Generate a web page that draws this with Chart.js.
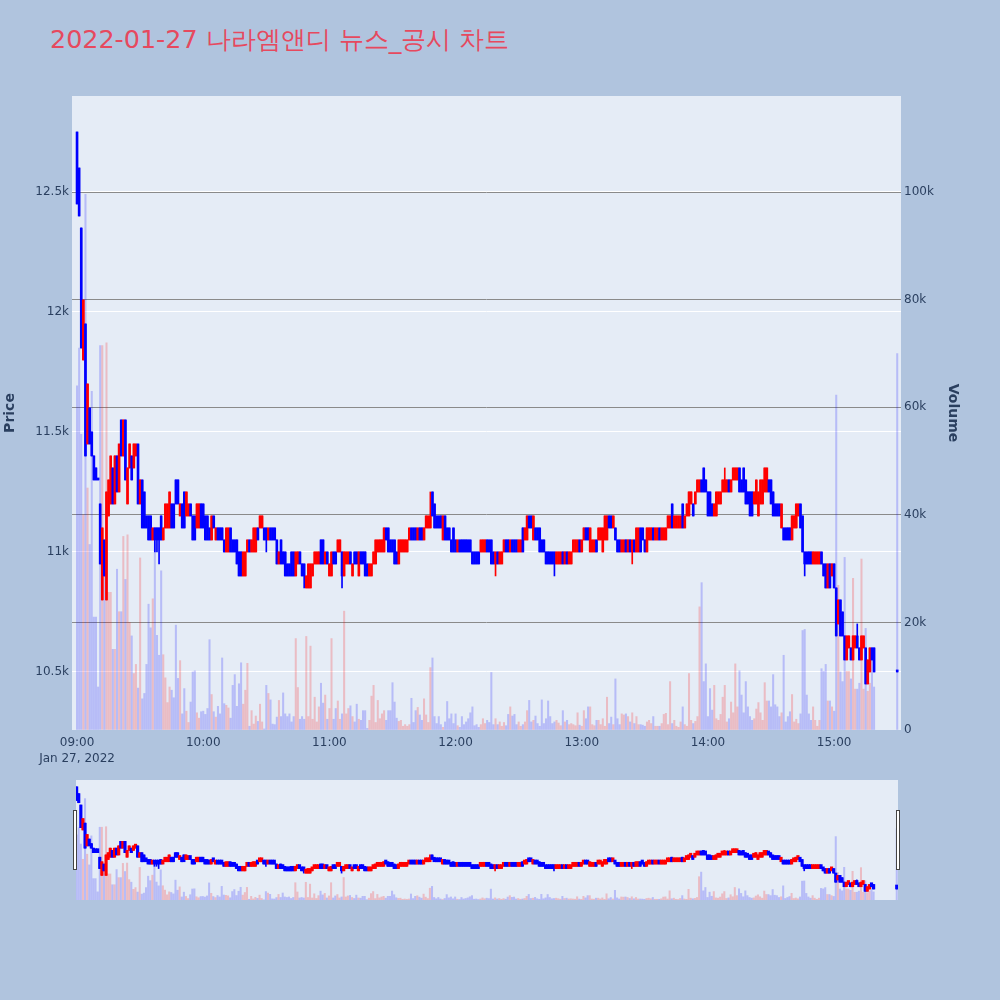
<!DOCTYPE html>
<html>
<head>
<meta charset="utf-8">
<script src="https://cdn.jsdelivr.net/npm/chart.js@4.4.1/dist/chart.umd.min.js"></script>
<style>
  html, body { margin: 0; padding: 0; background: #b0c4de; }
  body { width: 1000px; height: 1000px; position: relative; overflow: hidden; font-family: "DejaVu Sans", Verdana, sans-serif; }
  #title { position: absolute; left: 50px; top: 24px; font-size: 25.4px; line-height: 30px; color: #e6495e; white-space: nowrap; }
  #main { position: absolute; left: 0; top: 0; width: 1000px; height: 780px; }
  #slider { position: absolute; left: 0; top: 780px; width: 1000px; height: 120px; }
</style>
</head>
<body>
<div id="title">2022-01-27 나라엠앤디 뉴스_공시 차트</div>
<div id="main"><canvas id="chart-main"></canvas></div>
<div id="slider"><canvas id="chart-slider"></canvas></div>
<script>
// one-minute candles from 09:00, last entry is the 15:30 closing auction
var OPEN = [
  12750,12600,12350,11800,11950,11450,11600,11500,11400,11350,
  11300,11200,10800,11050,10800,11150,11200,11350,11200,11400,
  11250,11550,11400,11550,11200,11350,11400,11350,11400,11450,
  11200,11300,11250,11150,11150,11150,11050,11100,11100,11100,
  11150,11050,11100,11100,11100,11200,11200,11300,11300,11150,
  11200,11250,11150,11150,11200,11150,11150,11100,11100,11200,
  11200,11150,11150,11100,11050,11150,11050,11100,11100,11100,
  11050,11000,11000,11100,11050,11050,11050,11000,11000,10900,
  10900,11000,11050,11000,11000,11000,11100,11100,11100,11100,
  11100,11050,11100,11100,11100,11050,10950,11050,11000,11000,
  10950,10950,11000,11000,10900,10950,11000,10950,10950,10850,
  10850,10850,10900,10950,10950,10950,11050,11050,10950,11000,
  10900,10900,11000,11000,11000,11000,11000,10900,10950,10950,
  11000,10900,11000,11000,10900,11000,11000,11000,10950,10900,
  10900,10950,10950,11000,11000,11000,11000,11100,11100,11050,
  11050,11050,11000,10950,11000,11000,11000,11000,11050,11100,
  11100,11100,11050,11100,11100,11050,11100,11100,11100,11250,
  11200,11150,11150,11150,11050,11150,11100,11100,11050,11100,
  11050,11000,11050,11050,11050,11050,11050,11050,11000,11000,
  11000,11000,11000,11000,11000,11050,11050,11050,11000,10950,
  11000,10950,10950,11000,11050,11050,11000,11050,11050,11050,
  11000,11000,11100,11050,11050,11150,11150,11050,11100,11100,
  11100,11050,11050,11000,11000,11000,11000,11000,10950,10950,
  10950,11000,10950,11000,10950,10950,11000,11000,11000,11050,
  11000,11050,11100,11100,11000,11000,11000,11050,11050,11050,
  11000,11050,11050,11150,11150,11100,11100,11050,11050,11000,
  11000,11050,11000,11050,11000,11050,11000,11000,11100,11100,
  11050,11000,11050,11050,11100,11050,11050,11100,11050,11050,
  11050,11100,11100,11200,11100,11100,11100,11100,11200,11100,
  11150,11150,11200,11200,11200,11250,11250,11300,11350,11300,
  11250,11250,11200,11150,11150,11200,11200,11250,11250,11250,
  11300,11250,11300,11300,11300,11350,11300,11350,11300,11250,
  11250,11250,11200,11200,11150,11200,11200,11250,11250,11300,
  11300,11250,11200,11200,11200,11100,11100,11100,11100,11100,
  11050,11100,11100,11150,11200,11150,11000,11000,11000,11000,
  10950,10950,10950,10950,11000,10950,10950,10850,10950,10900,
  10950,10850,10700,10800,10750,10650,10550,10600,10600,10550,
  10600,10650,10600,10550,10600,10600,10450,10500,10600,10600,
  10500
];
var CLOSE = [
  12450,12400,11850,12050,11400,11700,11450,11400,11300,11300,
  11300,10950,11100,10900,11250,11300,11400,11200,11400,11250,
  11450,11400,11550,11300,11350,11450,11300,11450,11450,11200,
  11300,11100,11100,11100,11050,11050,11100,11050,11050,11050,
  11050,11100,11200,11200,11250,11100,11100,11200,11200,11200,
  11100,11100,11250,11200,11150,11050,11050,11200,11200,11100,
  11100,11050,11050,11050,11150,11100,11100,11050,11050,11050,
  11000,11100,11100,11000,11000,11000,10950,10900,10900,11000,
  11000,11050,11000,11050,11100,11100,11050,11150,11150,11050,
  11050,11100,11050,11050,11050,10950,11000,10950,10950,10900,
  10900,10900,10900,10900,11000,11000,10950,10900,10900,10900,
  10950,10950,10950,11000,11000,11000,10950,10950,11000,10950,
  10950,11000,10950,10950,11050,11050,10900,11000,11000,11000,
  10950,10950,10950,10950,11000,10950,10950,10900,10900,10950,
  10950,11000,11050,11050,11050,11050,11100,11050,11000,11000,
  11000,10950,10950,11050,11050,11050,11050,11050,11100,11050,
  11050,11050,11100,11050,11050,11100,11150,11150,11150,11150,
  11100,11100,11100,11100,11150,11050,11050,11050,11000,11000,
  11000,11050,11000,11000,11000,11000,11000,11000,10950,10950,
  10950,10950,11050,11050,11050,11000,11000,10950,10950,11000,
  10950,11000,11000,11050,11000,11000,11050,11000,11000,11000,
  11050,11050,11000,11100,11150,11100,11100,11150,11050,11050,
  11000,11000,11000,10950,10950,10950,10950,10950,11000,11000,
  11000,10950,11000,10950,11000,11000,11050,11050,11050,11000,
  11050,11100,11050,11050,11100,11050,11050,11000,11100,11100,
  11100,11150,11150,11100,11100,11150,11050,11000,11000,11050,
  11050,11000,11050,11000,11050,11000,11100,11100,11000,11050,
  11000,11100,11100,11100,11050,11100,11100,11050,11100,11100,
  11100,11150,11150,11100,11150,11150,11150,11150,11100,11150,
  11200,11250,11250,11150,11250,11300,11300,11250,11250,11250,
  11150,11150,11150,11200,11250,11250,11250,11300,11300,11300,
  11250,11300,11350,11350,11350,11250,11250,11250,11200,11200,
  11150,11150,11250,11300,11250,11300,11300,11350,11350,11250,
  11200,11150,11150,11150,11150,11200,11050,11050,11050,11050,
  11150,11150,11200,11200,11100,11000,10950,10950,10950,10950,
  11000,11000,11000,11000,10950,10900,10850,10950,10850,10950,
  10850,10650,10800,10650,10650,10550,10650,10650,10550,10650,
  10650,10600,10550,10650,10650,10450,10550,10600,10550,10500,
  10500
];
var VOLUME = [
  64000,71000,55000,40000,99600,45000,34500,63000,21000,21000,
  8000,71500,71500,31000,72000,25600,25600,15000,15000,29900,
  22000,22000,36000,28000,36300,20000,17500,10500,12200,7800,
  32000,5800,6800,12200,23400,19000,24400,35000,17600,13900,
  29600,14000,9700,5100,8000,7400,6000,19500,9600,12900,
  3000,7700,3500,1400,5200,10800,11000,3200,2200,3400,
  3500,2900,4000,16800,6600,3400,2400,4400,3000,13400,
  4900,4600,4100,2200,8300,10300,4400,8600,12500,4800,
  7400,12400,700,3600,1100,2600,1600,4800,1500,200,
  8300,6800,5600,1100,1000,2400,5500,2500,6900,3000,
  2500,3000,1500,2500,17000,7900,2000,2500,2000,17400,
  2500,15600,2000,6100,1500,4300,8700,5000,6500,2000,
  4000,17000,2000,4000,5400,2000,3000,22100,3000,4000,
  4500,2500,1500,4800,2000,1800,3600,3600,300,1800,
  6300,8300,1400,5500,2100,3000,3600,1800,3600,3600,
  8800,5200,2200,1600,1800,700,1000,700,1000,5900,
  1400,3600,4200,2800,1800,5800,2800,1400,11600,13400,
  2500,1200,2500,1000,500,1500,5300,2100,3000,1200,
  3000,800,500,2500,1000,1500,2100,3200,4300,800,
  1000,500,1000,2100,1200,1800,1400,10700,1000,2100,
  1000,1500,700,1400,800,2900,4300,2600,2900,1000,
  1500,700,1000,1500,3600,5500,1500,1800,2600,1200,
  700,5600,1200,2100,5400,2500,1200,1500,1800,1300,
  800,3600,1500,1800,1000,1200,1000,800,3200,900,
  700,3600,2100,4300,4300,1000,800,1800,1800,1000,
  2100,700,6100,1200,2400,1000,9500,2100,1000,3000,
  2800,3000,2500,1500,3200,1200,2500,1000,1000,900,
  700,1500,1800,1200,2500,700,700,700,1200,2900,
  3100,1000,9000,1200,1800,700,500,1500,4300,1000,
  700,10500,1800,1200,1600,2500,22900,27400,9000,12300,
  2500,7700,3700,8300,2100,1800,2900,6100,8300,1500,
  2100,5200,3200,12300,4300,11000,6500,3200,9000,4300,
  2500,1800,2100,3900,5100,3200,1800,8800,5400,5400,
  4300,10300,4700,4300,2500,3200,13900,1500,2500,3400,
  6600,1500,2000,1200,3000,18500,18700,6500,3000,1800,
  4300,1800,700,1800,11400,10900,12200,5400,5400,4300,
  3500,62300,26900,10800,9000,32100,10900,10900,9500,28200,
  7600,7600,8700,31800,7600,18900,7200,8700,13400,8000,
  70000
];
// wicks reaching past the body: [minute, price]
var LOW_WICKS = [[37,11000],[38,11000],[39,10950],[90,11000],[108,10850],[126,10850],
  [199,10900],[227,10900],[264,10950],[346,10900]];
var HIGH_WICKS = [[168,11250],[308,11350],[371,10700]];

var CLOSING_AUCTION_MINUTE = 390;
var TIME_TICKS = [0, 60, 120, 180, 240, 300, 360];
var TIME_TICK_LABELS = ['09:00', '10:00', '11:00', '12:00', '13:00', '14:00', '15:00'];
var DATE_LABEL = 'Jan 27, 2022';
var PRICE_TICKS = [10500, 11000, 11500, 12000, 12500];
var PRICE_TICK_LABELS = ['10.5k', '11k', '11.5k', '12k', '12.5k'];
var VOLUME_TICKS = [0, 20000, 40000, 60000, 80000, 100000];
var VOLUME_TICK_LABELS = ['0', '20k', '40k', '60k', '80k', '100k'];

var FONT = '"DejaVu Sans", Verdana, sans-serif';
var INK = '#2a3f5f';
var UP = '#ff0000';
var DOWN = '#0000ff';
var UP_VOL = 'rgba(255,0,0,0.2)';
var DOWN_VOL = 'rgba(0,0,255,0.2)';

var minutes = [];
for (var i = 0; i < OPEN.length - 1; i++) minutes.push(i);
minutes.push(CLOSING_AUCTION_MINUTE);

var high = OPEN.map(function (o, i) { return Math.max(o, CLOSE[i]); });
var low = OPEN.map(function (o, i) { return Math.min(o, CLOSE[i]); });
HIGH_WICKS.forEach(function (w) { high[w[0]] = w[1]; });
LOW_WICKS.forEach(function (w) { low[w[0]] = w[1]; });

var isUp = OPEN.map(function (o, i) { return CLOSE[i] > o; });

function makeDatasets(bodyW, bodyMin, wickW, volW) {
  return [
    {
      type: 'bar', yAxisID: 'y', order: 1, grouped: false,
      data: minutes.map(function (m, i) { return { x: m, y: [OPEN[i], CLOSE[i]] }; }),
      backgroundColor: isUp.map(function (u) { return u ? UP : DOWN; }),
      barThickness: bodyW, minBarLength: bodyMin
    },
    {
      type: 'bar', yAxisID: 'y', order: 2, grouped: false,
      data: minutes.map(function (m, i) { return { x: m, y: [low[i], high[i]] }; }),
      backgroundColor: isUp.map(function (u) { return u ? UP : DOWN; }),
      barThickness: wickW
    },
    {
      type: 'bar', yAxisID: 'y2', order: 3, grouped: false,
      data: minutes.map(function (m, i) { return { x: m, y: VOLUME[i] }; }),
      backgroundColor: isUp.map(function (u) { return u ? UP_VOL : DOWN_VOL; }),
      barThickness: volW
    }
  ];
}

var plotBg = {
  id: 'plotBg',
  beforeDraw: function (chart) {
    var a = chart.chartArea;
    var ctx = chart.ctx;
    ctx.save();
    ctx.fillStyle = '#e5ecf6';
    ctx.fillRect(a.left, a.top, a.right - a.left, a.bottom - a.top);
    ctx.restore();
  }
};

function fixedTicks(values) {
  return function (scale) {
    scale.ticks = values.map(function (v) { return { value: v }; });
  };
}

new Chart(document.getElementById('chart-main'), {
  type: 'bar',
  data: { datasets: makeDatasets(2, 2, 1, 1.4) },
  plugins: [plotBg],
  options: {
    responsive: true,
    maintainAspectRatio: false,
    animation: false,
    events: [],
    layout: { padding: { left: 0, right: 37, top: 96, bottom: 0 } },
    plugins: { legend: { display: false }, tooltip: { enabled: false } },
    scales: {
      x: {
        type: 'linear', min: -2.4, max: 391.8, offset: false,
        grid: { display: false, drawTicks: false },
        border: { display: false },
        afterBuildTicks: fixedTicks(TIME_TICKS),
        afterFit: function (s) { s.height = 50; },
        ticks: {
          padding: 5, maxRotation: 0, autoSkip: false, color: INK,
          font: { family: FONT, size: 12, lineHeight: 1.35 },
          callback: function (v) {
            var label = TIME_TICK_LABELS[TIME_TICKS.indexOf(v)];
            return v === 0 ? [label, DATE_LABEL] : label;
          }
        }
      },
      y: {
        position: 'left', min: 10258, max: 12900,
        grid: { color: '#ffffff', lineWidth: 1, drawTicks: false },
        border: { display: false },
        afterBuildTicks: fixedTicks(PRICE_TICKS),
        afterFit: function (s) { s.width = 72; },
        ticks: {
          padding: 3, color: INK, font: { family: FONT, size: 12 },
          callback: function (v) { return PRICE_TICK_LABELS[PRICE_TICKS.indexOf(v)]; }
        },
        title: {
          display: true, text: 'Price', color: INK, padding: { top: 2, bottom: 2 },
          font: { family: FONT, size: 14, weight: 'bold' }
        }
      },
      y2: {
        position: 'right', min: 0, max: 117900,
        grid: {
          drawTicks: false, lineWidth: 1,
          color: function (ctx) { return ctx.tick && ctx.tick.value === 0 ? 'rgba(0,0,0,0)' : '#8a8a8a'; }
        },
        border: { display: false },
        afterBuildTicks: fixedTicks(VOLUME_TICKS),
        afterFit: function (s) { s.width = 62; },
        ticks: {
          padding: 3, color: INK, font: { family: FONT, size: 12 },
          callback: function (v) { return VOLUME_TICK_LABELS[VOLUME_TICKS.indexOf(v)]; }
        },
        title: {
          display: true, text: 'Volume', color: INK, padding: { top: 2, bottom: 2 },
          font: { family: FONT, size: 14, weight: 'bold' }
        }
      }
    }
  }
});

var sliderHandles = {
  id: 'sliderHandles',
  afterDraw: function (chart) {
    var ctx = chart.ctx;
    ctx.save();
    ctx.fillStyle = '#ffffff';
    ctx.strokeStyle = '#444444';
    ctx.lineWidth = 1;
    [73.5, 896.5].forEach(function (x) {
      ctx.fillRect(x, 30.5, 3, 59);
      ctx.strokeRect(x, 30.5, 3, 59);
    });
    ctx.restore();
  }
};

new Chart(document.getElementById('chart-slider'), {
  type: 'bar',
  data: { datasets: makeDatasets(2.5, 4, 1, 1.4) },
  plugins: [plotBg, sliderHandles],
  options: {
    responsive: true,
    maintainAspectRatio: false,
    animation: false,
    events: [],
    layout: { padding: { left: 76, right: 102, top: 0, bottom: 0 } },
    plugins: { legend: { display: false }, tooltip: { enabled: false } },
    scales: {
      x: { type: 'linear', min: -0.3, max: 390.6, offset: false, display: false },
      y: { min: 10258, max: 12900, display: false },
      y2: { min: 0, max: 117900, display: false }
    }
  }
});
</script>
</body>
</html>
